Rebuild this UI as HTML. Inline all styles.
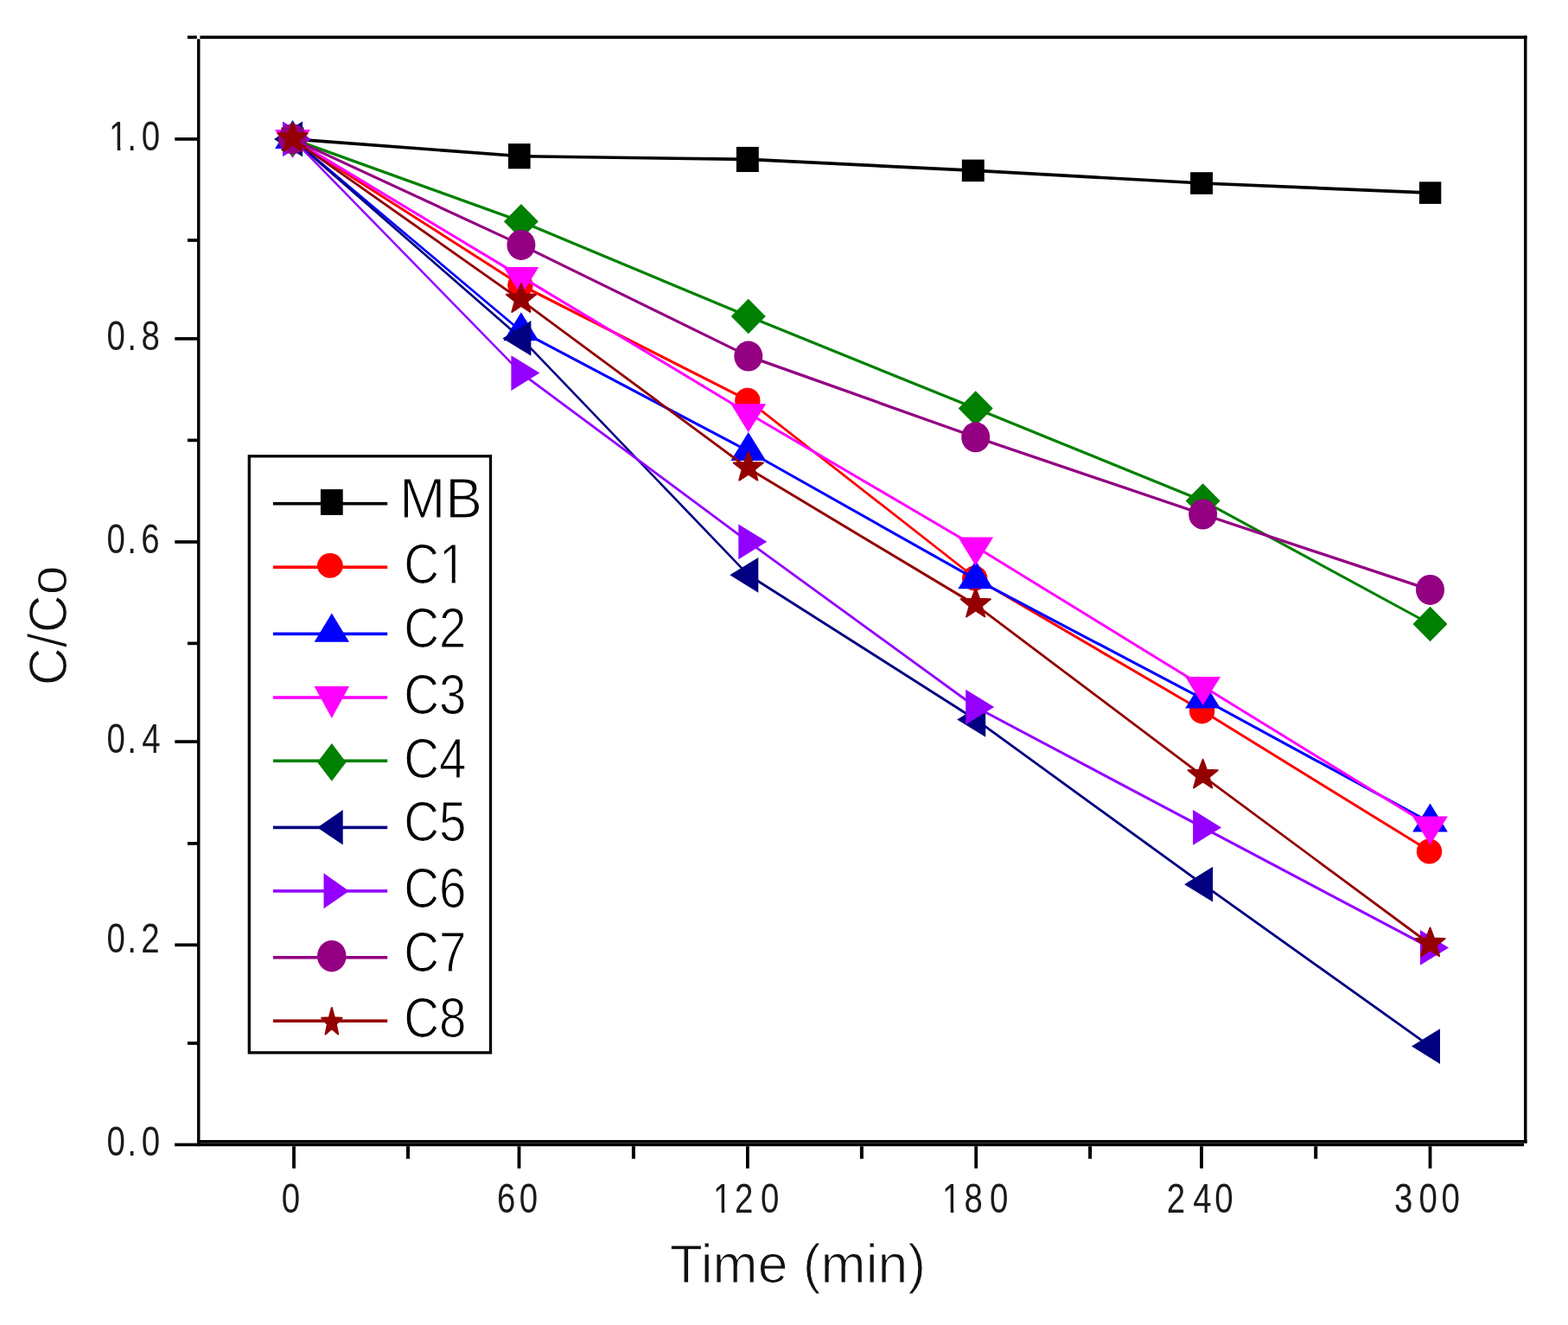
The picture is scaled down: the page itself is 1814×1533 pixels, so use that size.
<!DOCTYPE html>
<html><head><meta charset="utf-8"><title>C/Co vs Time</title>
<style>
html,body{margin:0;padding:0;background:#fff;overflow:hidden;}
svg{display:block;}
text{font-family:"Liberation Sans",Arial,sans-serif;}
</style></head><body>
<svg width="1814" height="1533" viewBox="0 0 1814 1533">
<rect width="1814" height="1533" fill="#fff"/>
<g fill="#000"><rect x="231.4" y="41.3" width="1535.1" height="3.6"/><rect x="216.9" y="41.3" width="10.9" height="3.6"/><rect x="228" y="45.2" width="3.5" height="1281"/><rect x="228" y="1319" width="1538.5" height="3.6"/><rect x="202" y="1322.6" width="1561" height="3.6"/><rect x="1763" y="41.3" width="3.5" height="1281.3"/><rect x="202.3" y="159.05" width="25.7" height="3.7"/><rect x="202.3" y="390.05" width="25.7" height="3.7"/><rect x="202.3" y="625.15" width="25.7" height="3.7"/><rect x="202.3" y="856.25" width="25.7" height="3.7"/><rect x="202.3" y="1091.45" width="25.7" height="3.7"/><rect x="216.9" y="1205.15" width="11.1" height="3.7"/><rect x="216.9" y="974.05" width="11.1" height="3.7"/><rect x="216.9" y="742.55" width="11.1" height="3.7"/><rect x="216.9" y="507.55" width="11.1" height="3.7"/><rect x="216.9" y="276.15" width="11.1" height="3.7"/><rect x="338.1" y="1326.2" width="3.8" height="25.6"/><rect x="598.6" y="1326.2" width="3.8" height="25.6"/><rect x="863" y="1326.2" width="3.8" height="25.6"/><rect x="1127.3" y="1326.2" width="3.8" height="25.6"/><rect x="1388.1" y="1326.2" width="3.8" height="25.6"/><rect x="1652.6" y="1326.2" width="3.8" height="25.6"/><rect x="470" y="1326.2" width="4" height="14.5"/><rect x="730.9" y="1326.2" width="4" height="14.5"/><rect x="994.9" y="1326.2" width="4" height="14.5"/><rect x="1259.1" y="1326.2" width="4" height="14.5"/><rect x="1520.2" y="1326.2" width="4" height="14.5"/></g>
<g><line x1="338.5" y1="160.9" x2="602.9" y2="180.7" stroke="#000000" stroke-width="3.59"/><line x1="602.9" y1="180.7" x2="865.8" y2="184.4" stroke="#000000" stroke-width="3.6"/><line x1="865.8" y1="184.4" x2="1128.71" y2="197.4" stroke="#000000" stroke-width="3.6"/><line x1="1128.71" y1="197.4" x2="1391.61" y2="212" stroke="#000000" stroke-width="3.59"/><line x1="1391.61" y1="212" x2="1654.51" y2="223.1" stroke="#000000" stroke-width="3.6"/><rect x="325.6" y="147.4" width="25.8" height="27" fill="#000000"/><rect x="588" y="166.1" width="25.6" height="29.2" fill="#000000"/><rect x="851.9" y="169.9" width="25.9" height="29.1" fill="#000000"/><rect x="1112.8" y="184.6" width="25.9" height="25.5" fill="#000000"/><rect x="1377.1" y="199.2" width="25.9" height="25.6" fill="#000000"/><rect x="1641.9" y="210.3" width="25.4" height="25.6" fill="#000000"/><line x1="338.5" y1="160.9" x2="602.9" y2="330" stroke="#FF0000" stroke-width="2.95"/><line x1="602.9" y1="330" x2="865.8" y2="463.4" stroke="#FF0000" stroke-width="3.12"/><line x1="865.8" y1="463.4" x2="1128.71" y2="669" stroke="#FF0000" stroke-width="2.76"/><line x1="1128.71" y1="669" x2="1391.61" y2="822.8" stroke="#FF0000" stroke-width="3.02"/><line x1="1391.61" y1="822.8" x2="1654.51" y2="985" stroke="#FF0000" stroke-width="2.98"/><ellipse cx="337.5" cy="160.9" rx="14.7" ry="14.6" fill="#FF0000"/><ellipse cx="601.9" cy="330" rx="14.7" ry="14.6" fill="#FF0000"/><ellipse cx="864.8" cy="463.4" rx="14.7" ry="14.6" fill="#FF0000"/><ellipse cx="1127.71" cy="669" rx="14.7" ry="14.6" fill="#FF0000"/><ellipse cx="1390.61" cy="822.8" rx="14.7" ry="14.6" fill="#FF0000"/><ellipse cx="1653.51" cy="985" rx="14.7" ry="14.6" fill="#FF0000"/><line x1="338.5" y1="160.9" x2="602.9" y2="383.2" stroke="#0000FF" stroke-width="2.68"/><line x1="602.9" y1="383.2" x2="865.8" y2="522" stroke="#0000FF" stroke-width="3.1"/><line x1="865.8" y1="522" x2="1128.71" y2="670.2" stroke="#0000FF" stroke-width="3.05"/><line x1="1128.71" y1="670.2" x2="1391.61" y2="808.6" stroke="#0000FF" stroke-width="3.1"/><line x1="1391.61" y1="808.6" x2="1654.51" y2="951.6" stroke="#0000FF" stroke-width="3.07"/><polygon points="338.5,138.9 358.9,171.9 318.1,171.9" fill="#0000FF"/><polygon points="602.9,361.2 623.3,394.2 582.5,394.2" fill="#0000FF"/><polygon points="865.8,500 886.2,533 845.4,533" fill="#0000FF"/><polygon points="1128.71,648.2 1149.11,681.2 1108.31,681.2" fill="#0000FF"/><polygon points="1391.61,786.6 1412.01,819.6 1371.21,819.6" fill="#0000FF"/><polygon points="1654.51,929.6 1674.91,962.6 1634.11,962.6" fill="#0000FF"/><line x1="338.5" y1="160.9" x2="602.9" y2="320.1" stroke="#FF00FF" stroke-width="3"/><line x1="602.9" y1="320.1" x2="865.8" y2="478.2" stroke="#FF00FF" stroke-width="3"/><line x1="865.8" y1="478.2" x2="1128.71" y2="632.5" stroke="#FF00FF" stroke-width="3.02"/><line x1="1128.71" y1="632.5" x2="1391.61" y2="794.1" stroke="#FF00FF" stroke-width="2.98"/><line x1="1391.61" y1="794.1" x2="1654.51" y2="955.6" stroke="#FF00FF" stroke-width="2.98"/><polygon points="318.1,149.9 358.9,149.9 338.5,182.9" fill="#FF00FF"/><polygon points="582.5,309.1 623.3,309.1 602.9,342.1" fill="#FF00FF"/><polygon points="845.4,467.2 886.2,467.2 865.8,500.2" fill="#FF00FF"/><polygon points="1108.31,621.5 1149.11,621.5 1128.71,654.5" fill="#FF00FF"/><polygon points="1371.21,783.1 1412.01,783.1 1391.61,816.1" fill="#FF00FF"/><polygon points="1634.11,944.6 1674.91,944.6 1654.51,977.6" fill="#FF00FF"/><line x1="338.5" y1="160.9" x2="602.9" y2="256.3" stroke="#008000" stroke-width="3.29"/><line x1="602.9" y1="256.3" x2="865.8" y2="366" stroke="#008000" stroke-width="3.23"/><line x1="865.8" y1="366" x2="1128.71" y2="472.6" stroke="#008000" stroke-width="3.24"/><line x1="1128.71" y1="472.6" x2="1391.61" y2="579.4" stroke="#008000" stroke-width="3.24"/><line x1="1391.61" y1="579.4" x2="1654.51" y2="722" stroke="#008000" stroke-width="3.08"/><polygon points="338.5,140.65 358.5,160.9 338.5,181.15 318.5,160.9" fill="#008000"/><polygon points="602.9,236.05 622.9,256.3 602.9,276.55 582.9,256.3" fill="#008000"/><polygon points="865.8,345.75 885.8,366 865.8,386.25 845.8,366" fill="#008000"/><polygon points="1128.71,452.35 1148.71,472.6 1128.71,492.85 1108.71,472.6" fill="#008000"/><polygon points="1391.61,559.15 1411.61,579.4 1391.61,599.65 1371.61,579.4" fill="#008000"/><polygon points="1654.51,701.75 1674.51,722 1654.51,742.25 1634.51,722" fill="#008000"/><line x1="338.5" y1="160.9" x2="602.9" y2="391.4" stroke="#000080" stroke-width="2.64"/><line x1="602.9" y1="391.4" x2="865.8" y2="665.3" stroke="#000080" stroke-width="2.53"/><line x1="865.8" y1="665.3" x2="1128.71" y2="832.4" stroke="#000080" stroke-width="2.95"/><line x1="1128.71" y1="832.4" x2="1391.61" y2="1023.2" stroke="#000080" stroke-width="2.83"/><line x1="1391.61" y1="1023.2" x2="1654.51" y2="1210.6" stroke="#000080" stroke-width="2.85"/><polygon points="317,160.9 350,140.55 350,181.25" fill="#000080"/><polygon points="581.4,391.4 614.4,371.05 614.4,411.75" fill="#000080"/><polygon points="844.3,665.3 877.3,644.95 877.3,685.65" fill="#000080"/><polygon points="1107.21,832.4 1140.21,812.05 1140.21,852.75" fill="#000080"/><polygon points="1370.11,1023.2 1403.11,1002.85 1403.11,1043.55" fill="#000080"/><polygon points="1633.01,1210.6 1666.01,1190.25 1666.01,1230.95" fill="#000080"/><line x1="338.5" y1="160.9" x2="602.9" y2="431.6" stroke="#9400FF" stroke-width="2.5"/><line x1="602.9" y1="431.6" x2="865.8" y2="626.8" stroke="#9400FF" stroke-width="2.81"/><line x1="865.8" y1="626.8" x2="1128.71" y2="818" stroke="#9400FF" stroke-width="2.83"/><line x1="1128.71" y1="818" x2="1391.61" y2="957.4" stroke="#9400FF" stroke-width="3.09"/><line x1="1391.61" y1="957.4" x2="1654.51" y2="1096.4" stroke="#9400FF" stroke-width="3.09"/><polygon points="360,160.9 327,140.55 327,181.25" fill="#9400FF"/><polygon points="624.4,431.6 591.4,411.25 591.4,451.95" fill="#9400FF"/><polygon points="887.3,626.8 854.3,606.45 854.3,647.15" fill="#9400FF"/><polygon points="1150.21,818 1117.21,797.65 1117.21,838.35" fill="#9400FF"/><polygon points="1413.11,957.4 1380.11,937.05 1380.11,977.75" fill="#9400FF"/><polygon points="1676.01,1096.4 1643.01,1076.05 1643.01,1116.75" fill="#9400FF"/><line x1="338.5" y1="160.9" x2="602.9" y2="283.4" stroke="#930082" stroke-width="3.18"/><line x1="602.9" y1="283.4" x2="865.8" y2="412.1" stroke="#930082" stroke-width="3.14"/><line x1="865.8" y1="412.1" x2="1128.71" y2="505.8" stroke="#930082" stroke-width="3.3"/><line x1="1128.71" y1="505.8" x2="1391.61" y2="595" stroke="#930082" stroke-width="3.31"/><line x1="1391.61" y1="595" x2="1654.51" y2="682.4" stroke="#930082" stroke-width="3.32"/><ellipse cx="338.5" cy="160.9" rx="16.5" ry="17.5" fill="#930082"/><ellipse cx="602.9" cy="283.4" rx="16.5" ry="17.5" fill="#930082"/><ellipse cx="865.8" cy="412.1" rx="16.5" ry="17.5" fill="#930082"/><ellipse cx="1128.71" cy="505.8" rx="16.5" ry="17.5" fill="#930082"/><ellipse cx="1391.61" cy="595" rx="16.5" ry="17.5" fill="#930082"/><ellipse cx="1654.51" cy="682.4" rx="16.5" ry="17.5" fill="#930082"/><line x1="338.5" y1="160.9" x2="602.9" y2="347.3" stroke="#940000" stroke-width="2.86"/><line x1="602.9" y1="347.3" x2="865.8" y2="542" stroke="#940000" stroke-width="2.81"/><line x1="865.8" y1="542" x2="1128.71" y2="699.9" stroke="#940000" stroke-width="3"/><line x1="1128.71" y1="699.9" x2="1391.61" y2="897.9" stroke="#940000" stroke-width="2.8"/><line x1="1391.61" y1="897.9" x2="1654.51" y2="1092.5" stroke="#940000" stroke-width="2.81"/><polygon points="338.5,141.9 342.94,153.78 355.62,154.34 345.69,162.24 349.08,174.46 338.5,167.46 327.92,174.46 331.31,162.24 321.38,154.34 334.06,153.78" fill="#940000" stroke="#940000" stroke-width="2" stroke-linejoin="round"/><polygon points="602.9,328.3 607.35,340.18 620.02,340.74 610.09,348.64 613.48,360.86 602.9,353.86 592.32,360.86 595.71,348.64 585.78,340.74 598.46,340.18" fill="#940000" stroke="#940000" stroke-width="2" stroke-linejoin="round"/><polygon points="865.8,523 870.25,534.88 882.92,535.44 872.99,543.34 876.38,555.56 865.8,548.56 855.22,555.56 858.61,543.34 848.68,535.44 861.36,534.88" fill="#940000" stroke="#940000" stroke-width="2" stroke-linejoin="round"/><polygon points="1128.71,680.9 1133.15,692.78 1145.83,693.34 1135.9,701.24 1139.29,713.46 1128.71,706.46 1118.13,713.46 1121.52,701.24 1111.59,693.34 1124.26,692.78" fill="#940000" stroke="#940000" stroke-width="2" stroke-linejoin="round"/><polygon points="1391.61,878.9 1396.05,890.78 1408.73,891.34 1398.8,899.24 1402.19,911.46 1391.61,904.46 1381.03,911.46 1384.42,899.24 1374.49,891.34 1387.16,890.78" fill="#940000" stroke="#940000" stroke-width="2" stroke-linejoin="round"/><polygon points="1654.51,1073.5 1658.95,1085.38 1671.63,1085.94 1661.7,1093.84 1665.09,1106.06 1654.51,1099.06 1643.93,1106.06 1647.32,1093.84 1637.39,1085.94 1650.07,1085.38" fill="#940000" stroke="#940000" stroke-width="2" stroke-linejoin="round"/></g>
<g><rect x="288.3" y="527.8" width="279.2" height="690.1" fill="#fff" stroke="#000" stroke-width="3.3"/><rect x="315.9" y="580.9" width="132.3" height="3.6" fill="#000000"/><rect x="370.9" y="566.1" width="25.8" height="29.8" fill="#000000"/><rect x="315.9" y="654.4" width="132.3" height="3.6" fill="#FF0000"/><ellipse cx="381.9" cy="654.4" rx="14.85" ry="14.4" fill="#FF0000"/><rect x="315.9" y="731.6" width="132.3" height="3.6" fill="#0000FF"/><polygon points="383.8,709.4 404,742.8 363.6,742.8" fill="#0000FF"/><rect x="315.9" y="805.2" width="132.3" height="3.6" fill="#FF00FF"/><polygon points="363.6,794 404,794 383.8,830.9" fill="#FF00FF"/><rect x="315.9" y="878.5" width="132.3" height="3.6" fill="#008000"/><polygon points="383.8,860 400.4,881.9 383.8,903.8 367.2,881.9" fill="#008000"/><rect x="315.9" y="955.6" width="132.3" height="3.6" fill="#000080"/><polygon points="367.1,957.4 396.7,936.9 396.7,977.4" fill="#000080"/><rect x="315.9" y="1029.1" width="132.3" height="3.6" fill="#9400FF"/><polygon points="403.9,1030.9 374.5,1010.3 374.5,1051.2" fill="#9400FF"/><rect x="315.9" y="1106" width="132.3" height="3.6" fill="#930082"/><ellipse cx="383.75" cy="1106.2" rx="16.75" ry="18.25" fill="#930082"/><rect x="315.9" y="1179.4" width="132.3" height="3.6" fill="#940000"/><polygon points="383.85,1166 386.93,1177.16 395.7,1177.68 388.83,1185.09 391.17,1196.57 383.85,1190 376.53,1196.57 378.87,1185.09 372,1177.68 380.77,1177.16" fill="#940000" stroke="#940000" stroke-width="2" stroke-linejoin="round"/></g>
<g font-size="65" fill="#000" stroke="#fff" stroke-width="1.2"><text transform="translate(461.97,599.3) scale(0.985,0.985)">MB</text><text transform="translate(467.22,674.9) scale(0.87,1)">C1</text><text transform="translate(467.22,748.6) scale(0.87,1)">C2</text><text transform="translate(467.22,825.9) scale(0.87,1)">C3</text><text transform="translate(467.22,899.5) scale(0.87,1)">C4</text><text transform="translate(467.22,972.9) scale(0.87,1)">C5</text><text transform="translate(467.22,1050.3) scale(0.87,1)">C6</text><text transform="translate(467.22,1123.5) scale(0.87,1)">C7</text><text transform="translate(467.22,1200.2) scale(0.87,1)">C8</text></g>
<g font-size="47.3" fill="#1a1a1a"><text transform="translate(0,173.7) scale(0.812,1)" x="155.17 181.4 201.6" y="0">1.0</text><text transform="translate(0,404.9) scale(0.812,1)" x="152.22 181.4 201.48" y="0">0.8</text><text transform="translate(0,639.8) scale(0.812,1)" x="152.22 181.4 201.11" y="0">0.6</text><text transform="translate(0,871) scale(0.812,1)" x="152.22 181.4 202.34" y="0">0.4</text><text transform="translate(0,1102.4) scale(0.812,1)" x="152.22 181.4 201.11" y="0">0.2</text><text transform="translate(0,1337.2) scale(0.812,1)" x="152.22 181.4 201.6" y="0">0.0</text><text transform="translate(0,1403.2) scale(0.812,1)" x="401.23" y="0">0</text><text transform="translate(0,1403.2) scale(0.812,1)" x="708.25 739.9" y="0">60</text><text transform="translate(0,1403.2) scale(0.812,1)" x="1016.01 1046.92 1083.74" y="0">120</text><text transform="translate(0,1403.2) scale(0.812,1)" x="1342.36 1373.65 1410.1" y="0">180</text><text transform="translate(0,1403.2) scale(0.812,1)" x="1662.19 1699.75 1730.54" y="0">240</text><text transform="translate(0,1403.2) scale(0.812,1)" x="1986.58 2021.55 2053.57" y="0">300</text></g>
<g fill="#fff"><rect x="126.78" y="169.11" width="8.92" height="5.79"/><rect x="139.35" y="169.11" width="7.41" height="5.79"/><rect x="825.78" y="1398.61" width="8.92" height="5.79"/><rect x="838.35" y="1398.61" width="7.41" height="5.79"/><rect x="1090.78" y="1398.61" width="8.92" height="5.79"/><rect x="1103.35" y="1398.61" width="7.41" height="5.79"/><rect x="509.18" y="668.54" width="13.59" height="7.56"/><rect x="526.77" y="668.54" width="10.74" height="7.56"/></g>
<g font-size="62.5" fill="#111" stroke="#fff" stroke-width="1.2">
<text x="923" y="1483.7" text-anchor="middle">Time (min)</text>
<text transform="translate(77.4,723.8) rotate(-90) scale(0.975,1)" text-anchor="middle">C/Co</text>
</g>
</svg>
</body></html>
